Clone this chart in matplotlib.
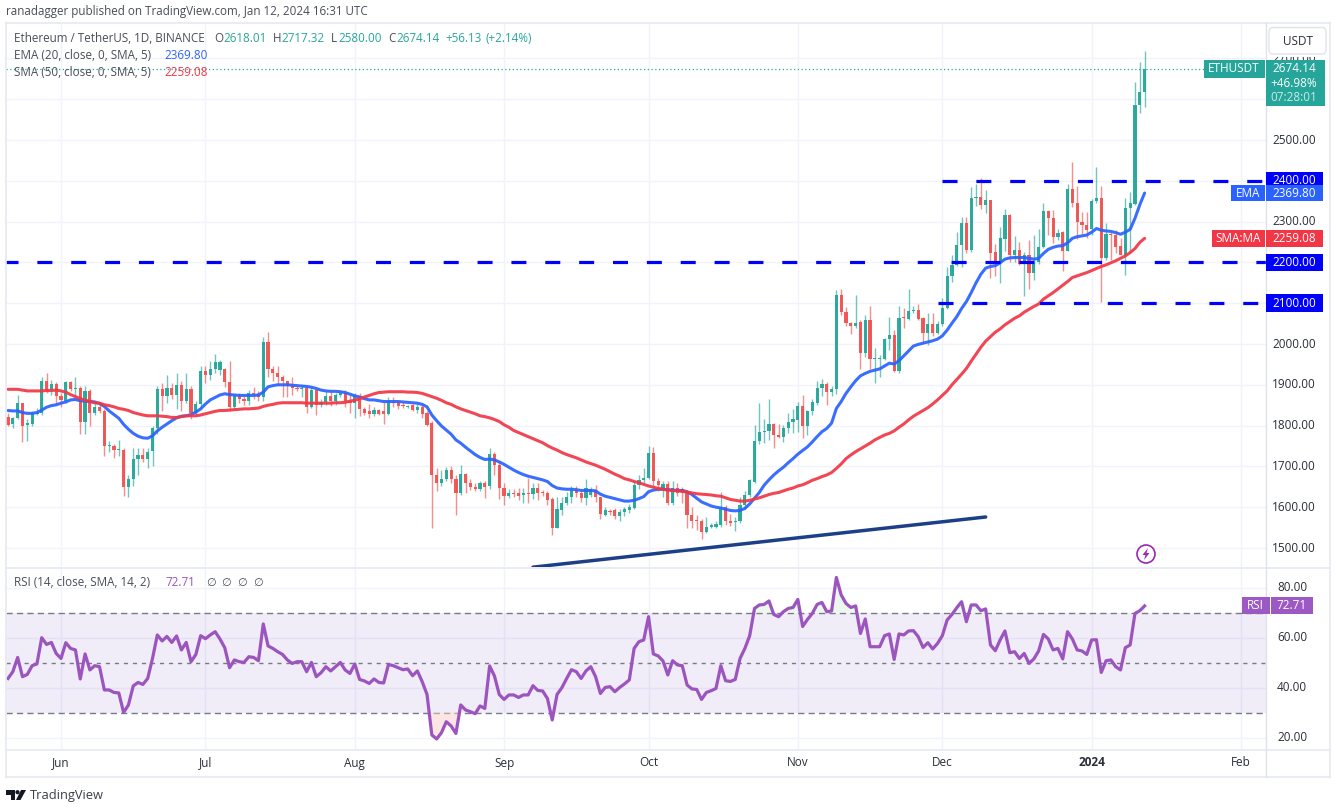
import numpy as np
import pandas as pd
import matplotlib
matplotlib.use("Agg")
import matplotlib.pyplot as plt
import matplotlib.dates as mdates
from matplotlib.patches import Rectangle, FancyBboxPatch, Circle, Polygon

FONT = ["Open Sans", "DejaVu Sans"]
plt.rcParams["font.family"] = FONT

start_date = "2023-05-21"

opens = [1820,1803,1818,1855,1801,1805,1829,1830,1910,1889,1903,
 1873,1861,1907,1890,1892,1810,1885,1832,1846,1835,1751,1751,1740,1740,1650,1669,1718,1728,1718,1738,1795,1890,1872,1892,1875,1900,1860,1890,1830,1853,
 1934,1923,1938,1936,1938,1908,1846,1872,1864,1860,1880,1878,1871,2006,1938,1930,1920,1910,1896,1892,1890,1892,1846,1888,1850,1858,1872,1860,1875,1880,1860,
 1856,1872,1840,1835,1828,1838,1835,1828,1858,1855,1851,1846,1850,1838,1846,1830,1806,1680,1660,1670,1692,1670,1635,1681,1660,1650,1645,1660,1651,1730,1703,
 1646,1628,1636,1636,1630,1634,1632,1648,1636,1636,1620,1550,1593,1610,1625,1643,1634,1622,1630,1642,1624,1581,1590,1594,1578,1588,1594,1598,1654,1666,
 1671,1733,1665,1648,1657,1610,1648,1645,1637,1580,1567,1567,1538,1552,1552,1556,1600,1565,1563,1566,1605,1630,1662,1763,1785,1786,1804,1778,1773,1793,1810,
 1814,1848,1800,1835,1855,1892,1903,1883,1889,2121,2079,2052,2045,2055,1978,2060,1964,1964,1964,2012,2022,1933,2065,2062,2081,2083,2063,2027,2048,2026,
 2049,2088,2166,2193,2242,2296,2230,2358,2360,2340,2352,2225,2200,2258,2316,2218,2230,2195,2218,2175,2200,2237,2325,2310,2263,2275,2229,2379,2345,2300,2292,
 2281,2351,2357,2210,2270,2268,2240,2218,2333,2343,2585,2618]
highs = [1830,1822,1875,1856,1815,1835,1842,1920,1928,1912,1907,
 1880,1910,1910,1920,1897,1897,1890,1858,1852,1840,1762,1755,1765,1745,1680,1745,1745,1745,1745,1800,1897,1905,1925,1905,1930,1910,1930,1897,1860,1945,
 1945,1958,1975,1960,1940,1958,1875,1880,1875,1888,1895,1885,2018,2029,1945,1945,1925,1910,1920,1900,1900,1895,1895,1885,1865,1885,1885,1880,1885,1888,1875,
 1880,1880,1845,1853,1845,1840,1858,1870,1870,1860,1858,1850,1852,1852,1855,1835,1812,1696,1690,1698,1700,1680,1703,1685,1670,1660,1665,1663,1745,1735,1710,
 1660,1645,1645,1647,1648,1672,1660,1660,1642,1640,1625,1625,1625,1638,1652,1653,1640,1670,1650,1655,1625,1600,1595,1598,1595,1600,1609,1665,1680,1695,
 1751,1747,1672,1665,1665,1665,1660,1650,1640,1600,1580,1570,1575,1562,1565,1638,1605,1583,1575,1625,1640,1670,1801,1855,1815,1865,1806,1804,1802,1830,1840,
 1859,1875,1838,1865,1910,1915,1908,1898,2132,2136,2090,2055,2120,2060,2070,2092,1990,1972,2015,2067,2035,2093,2089,2134,2092,2098,2065,2077,2077,2057,
 2112,2188,2218,2275,2312,2312,2385,2391,2406,2377,2354,2245,2286,2332,2318,2265,2251,2226,2255,2267,2281,2345,2328,2328,2283,2278,2392,2447,2387,2323,2323,
 2355,2433,2387,2296,2275,2279,2259,2359,2372,2643,2690,2717]
lows = [1800,1794,1815,1760,1762,1800,1825,1826,1880,1875,1853,
 1845,1855,1885,1870,1780,1780,1800,1825,1832,1725,1735,1720,1725,1628,1625,1653,1680,1710,1695,1700,1780,1835,1855,1865,1840,1835,1855,1815,1825,1840,
 1905,1912,1930,1925,1895,1835,1840,1855,1850,1850,1865,1860,1860,1920,1910,1900,1870,1870,1875,1885,1870,1830,1843,1825,1845,1850,1848,1850,1870,1845,1830,
 1818,1823,1825,1818,1824,1825,1804,1825,1845,1840,1842,1842,1835,1830,1818,1798,1550,1640,1652,1665,1660,1581,1630,1636,1642,1640,1640,1622,1644,1680,1620,
 1605,1622,1625,1617,1610,1610,1620,1617,1628,1605,1533,1550,1581,1605,1610,1625,1612,1605,1625,1612,1570,1578,1582,1572,1565,1578,1585,1596,1645,1660,
 1668,1650,1640,1625,1605,1605,1628,1610,1548,1550,1545,1523,1537,1548,1548,1552,1556,1553,1542,1562,1595,1625,1660,1755,1757,1765,1746,1770,1760,1781,1782,
 1785,1770,1776,1826,1850,1872,1850,1873,1878,2072,2045,2025,2040,1938,1968,1938,1905,1918,1960,1985,1932,1930,2038,2060,2075,2060,2002,1998,2020,2025,
 2045,2085,2153,2190,2189,2222,2225,2339,2331,2322,2161,2167,2149,2229,2202,2202,2194,2118,2136,2157,2195,2235,2267,2247,2255,2180,2227,2337,2257,2270,2259,
 2267,2345,2103,2206,2207,2222,2218,2169,2222,2340,2567,2580]
closes = [1802,1818,1855,1800,1806,1829,1830,1910,1887,1903,1873,
 1862,1907,1890,1892,1810,1885,1832,1846,1835,1751,1751,1740,1741,1650,1669,1718,1728,1718,1736,1795,1890,1872,1892,1875,1900,1860,1890,1830,1853,1934,
 1923,1938,1956,1956,1908,1846,1872,1864,1860,1880,1878,1871,2006,1938,1930,1920,1910,1896,1892,1890,1892,1846,1888,1850,1858,1872,1860,1875,1880,1860,1856,
 1872,1840,1832,1828,1838,1828,1828,1858,1855,1849,1849,1848,1838,1846,1828,1802,1680,1660,1670,1692,1670,1635,1681,1660,1650,1645,1660,1650,1730,1703,1646,
 1628,1635,1632,1628,1635,1633,1648,1634,1635,1618,1550,1595,1610,1625,1642,1634,1622,1648,1645,1624,1583,1594,1588,1578,1588,1595,1600,1654,1666,1671,
 1733,1665,1655,1657,1610,1648,1634,1634,1580,1567,1565,1538,1552,1556,1560,1600,1565,1562,1566,1605,1630,1666,1763,1785,1787,1804,1778,1773,1795,1810,1815,
 1848,1800,1835,1857,1892,1902,1883,1889,2121,2078,2052,2045,2052,1978,2060,1964,1964,1966,2012,2022,1934,2063,2064,2081,2084,2062,2027,2048,2027,2050,
 2089,2166,2193,2242,2296,2230,2358,2359,2340,2352,2224,2200,2260,2316,2218,2230,2195,2218,2175,2202,2238,2325,2310,2263,2273,2229,2379,2345,2300,2292,2280,
 2351,2357,2210,2270,2268,2238,2218,2333,2345,2585,2618,2674]

ema20 = [1837,1836,1836,1832,1830,1830,1832,1838,1845,1849,1851,1855,1858,1863,1864,1861,1860,1859,1858,1854,1847,1836,1827,1818,1803,1791,1781,1774,1770,1769,
 1775,1787,1796,1804,1812,1819,1823,1824,1827,1833,1841,1853,1863,1869,1875,1878,1876,1875,1874,1874,1874,1874,1875,1882,1895,1898,1900,1900,1900,1899,
 1898,1897,1896,1894,1891,1887,1885,1884,1884,1883,1881,1877,1873,1870,1866,1863,1863,1861,1859,1859,1859,1859,1858,1857,1856,1855,1852,1846,1826,1812,
 1799,1789,1779,1765,1757,1747,1738,1729,1722,1717,1718,1716,1711,1705,1698,1691,1685,1680,1676,1673,1670,1667,1663,1653,1647,1645,1644,1644,1643,1641,
 1641,1641,1640,1632,1627,1624,1621,1618,1615,1615,1617,1621,1626,1638,1642,1644,1644,1643,1642,1641,1641,1638,1631,1622,1613,1608,1603,1600,1598,1595,
 1592,1591,1592,1597,1608,1622,1636,1654,1667,1679,1689,1698,1709,1719,1730,1739,1748,1760,1773,1785,1793,1806,1842,1859,1879,1895,1910,1922,1928,1933,
 1936,1939,1946,1953,1951,1959,1971,1983,1995,1999,2002,2005,2008,2012,2020,2034,2051,2067,2087,2104,2126,2150,2171,2186,2190,2192,2199,2208,2211,2212,
 2212,2212,2210,2208,2210,2222,2232,2237,2240,2241,2248,2259,2263,2265,2267,2274,2283,2279,2277,2276,2273,2269,2274,2281,2308,2341,2370]
sma50 = [1889,1889,1889,1887,1885,1885,1885,1885,1886,1886,1887,1885,1882,1876,1871,1866,1862,1859,1856,1855,1851,1849,1846,1842,1840,1837,1832,1829,1826,1824,
 1824,1824,1823,1822,1820,1820,1822,1824,1824,1824,1826,1829,1832,1835,1837,1837,1838,1839,1840,1841,1841,1842,1843,1847,1850,1852,1855,1856,1856,1856,
 1856,1856,1855,1855,1855,1855,1855,1855,1856,1856,1857,1860,1862,1866,1870,1874,1878,1881,1882,1883,1883,1883,1883,1882,1882,1881,1879,1875,1871,1867,
 1862,1856,1852,1846,1841,1837,1833,1829,1824,1822,1819,1815,1810,1802,1796,1788,1783,1778,1773,1768,1763,1758,1751,1745,1740,1734,1729,1725,1721,1716,
 1711,1707,1703,1698,1693,1687,1681,1676,1670,1667,1663,1660,1656,1652,1649,1646,1644,1642,1641,1640,1639,1637,1635,1633,1632,1631,1630,1628,1627,1623,
 1619,1617,1615,1615,1617,1620,1623,1627,1631,1634,1636,1640,1644,1647,1652,1655,1660,1666,1670,1675,1679,1685,1695,1706,1719,1728,1736,1743,1750,1757,
 1765,1771,1777,1781,1787,1796,1804,1814,1823,1830,1837,1844,1853,1863,1874,1885,1900,1913,1926,1940,1958,1975,1992,2007,2018,2029,2037,2047,2055,2063,
 2069,2078,2085,2092,2098,2110,2118,2126,2135,2144,2153,2163,2167,2171,2175,2180,2185,2190,2194,2199,2204,2210,2216,2224,2234,2249,2259]
rsi14 = [43.7,46.4,52.1,44.4,45.3,48.8,49.5,60,57.3,58.1,53.7,51.7,58,55.7,55.1,43.5,53.5,47.1,48.8,48.4,39.1,39.1,38.1,37.9,30.1,33.1,40.7,42.1,41.3,43.7,
 51.7,61.1,58.7,60.5,58.1,60.7,55.1,58.1,50.4,53.3,60.8,59.6,61.1,62.4,59.5,56,48,51.1,50.4,50.1,52.4,52.1,50.8,65.5,56.7,55.7,54.4,53.3,51.1,49.7,
 50.4,50.4,46.4,50.1,44.4,46,48.4,46.7,48.4,50.1,47.1,45.7,49.5,43.3,42.7,41.7,43.5,42.1,41.9,49.3,48.8,48,47.2,47.5,44.8,46.7,42.4,37.3,21.1,19.5,
 22,26.4,24.7,21.7,33.1,31.1,30.4,29.6,32.7,31.7,48.7,44.7,37.3,35.3,37.1,37.1,36.1,37.1,37.1,40.8,38.9,38.7,35.7,27.1,37.3,40,43.7,47.2,46.4,43.7,
 46.7,48.4,44.4,
 37.7,40.1,40.4,38.4,40.1,41.5,43.1,55.7,58.4,59.1,68.4,53.5,52.7,50.7,45.1,50.8,49.1,48.8,41.1,39.5,39.3,35.3,38.1,38.8,39.7,48.8,42.8,42.5,43.3,51.7,
 55.7,60.8,71.7,73.1,73.3,74.7,69.3,68.4,70.4,71.7,72.1,75.3,64.5,67.3,69.7,73.3,74.1,70.4,70.7,84.1,77.1,73.7,72.1,72.7,61.7,67.5,56.4,56.4,56.4,60.8,
 61.5,51.3,61.5,61.1,62.7,62.8,60.4,56.1,58,55.5,57.7,60.8,67.1,69.3,72,74.4,66.4,73.1,73.1,70.8,71.5,57.1,54.8,59.1,62.7,54,54.4,51.7,53.7,49.7,
 51.5,54.7,61.3,59.5,55.1,55.7,51.5,62.4,59.5,55.1,54.7,53.3,59.1,59.2,46.1,50.8,51.1,48.4,47.1,56,57.1,69.7,70.8,72.71]

level_prices = [2400, 2200, 2100]
level_starts = ["2023-12-01", "2023-05-20", "2023-11-30"]
trend_dates = ["2023-09-07", "2023-12-10"]
trend_prices = [1453, 1576]
price_ticks = [1500,1600,1700,1800,1900,2000,2100,2200,2300,2400,2500,2600,2700]
price_labels = [1500,1600,1700,1800,1900,2000,2300,2500,2700]
rsi_ticks = [20,40,60,80]
rsi_levels = [70,50,30]
month_ticks = ["2023-06-01","2023-07-01","2023-08-01","2023-09-01","2023-10-01","2023-11-01","2023-12-01","2024-01-01","2024-02-01"]
month_labels = ["Jun","Jul","Aug","Sep","Oct","Nov","Dec","2024","Feb"]
last_close, last_ema, last_sma, last_rsi = 2674.14, 2369.80, 2259.08, 72.71

GREEN, RED = "#26a69a", "#ef5350"
BLUE, SMA = "#2962ff", "#f23645"
GRID = "#f0f3fa"
TXT = "#4a4e5a"
W, H = 1336, 809

dates = mdates.date2num(pd.date_range(start_date, periods=len(closes)))
o, h, l, c = map(np.array, (opens, highs, lows, closes))
up = c >= o
cols = np.where(up, GREEN, RED)

fig = plt.figure(figsize=(W / 100, H / 100), dpi=100, facecolor="white")

def pane(x0, y0, x1, y1):
    return fig.add_axes([x0 / W, 1 - y1 / H, (x1 - x0) / W, (y1 - y0) / H])

ax = pane(6, 24, 1266, 567)
ax2 = pane(6, 568, 1266, 749)
d0 = mdates.date2num(pd.Timestamp(start_date))
xlim = (d0 + (6 - 61) / 4.816 + 11, d0 + (1266 - 61) / 4.816 + 11)
ticks_x = mdates.date2num(pd.to_datetime(month_ticks))

for a in (ax, ax2):
    a.set_xlim(*xlim)
    a.set_xticks(ticks_x)
    a.tick_params(left=False, right=False, bottom=False, labelleft=False, labelbottom=False)
    a.grid(True, color=GRID, lw=1.0)
    a.set_axisbelow(True)
    for s in a.spines.values():
        s.set_visible(False)

# price pane
ax.set_ylim(1500 + (548 - 567) / 0.408, 1500 + (548 - 24) / 0.408)
ax.set_yticks(price_ticks)
ax.axhline(last_close, color=GREEN, lw=0.9, ls=(0, (1, 2)), zorder=1)
ax.vlines(dates, l, h, colors=cols, lw=1.0, alpha=0.65, zorder=2)
ax.bar(dates, np.maximum(np.abs(c - o), 2.5), bottom=np.minimum(o, c), width=0.66, color=cols, alpha=0.95, lw=0, zorder=3)
ax.plot(dates, ema20, color=BLUE, lw=2.2, alpha=0.92, zorder=4, solid_capstyle="round")
ax.plot(dates, sma50, color=SMA, lw=2.2, alpha=0.92, zorder=4, solid_capstyle="round")
for p, s in zip(level_prices, level_starts):
    ax.plot([mdates.date2num(pd.Timestamp(s)), xlim[1]], [p, p], color="#0000ff", lw=2.3,
            dashes=(4.7, 5.9), dash_capstyle="butt", zorder=5)
ax.plot(mdates.date2num(pd.to_datetime(trend_dates)), trend_prices, color="#1c3f87", lw=2.5, zorder=5, solid_capstyle="round")

# RSI pane
ax2.set_ylim(70 - (749 - 612.7) / 2.5, 70 + (612.7 - 568) / 2.5)
ax2.set_yticks(rsi_ticks)
ax2.axhspan(rsi_levels[2], rsi_levels[0], color="#7e57c2", alpha=0.11, lw=0, zorder=1)
for v in rsi_levels:
    ax2.axhline(v, color="#787b86", lw=1.0, ls=(0, (4.5, 3)) if v != 50 else (0, (3, 3.5)), zorder=2)
r = np.array(rsi14)
ax2.fill_between(dates, r, 30, where=r < 30, interpolate=True, color="#f9cfcb", alpha=0.5, lw=0, zorder=2)
ax2.fill_between(dates, r, 70, where=r > 70, interpolate=True, color="#d5efdb", alpha=0.45, lw=0, zorder=2)
ax2.plot(dates, r, color="#9c54bf", lw=2.3, zorder=3, solid_joinstyle="round")

# overlay in pixel coordinates for frame, labels and legends
ov = fig.add_axes([0, 0, 1, 1], zorder=10)
ov.set_xlim(0, W)
ov.set_ylim(H, 0)
ov.axis("off")
ov.patch.set_alpha(0)

def T(x, y, s, color=TXT, size=8.5, ha="left", **kw):
    return ov.text(x, y, s, color=color, fontsize=size, ha=ha, va="center", family=FONT, **kw)

def box(x0, x1, yc, color, hgt=17.5, z=3):
    ov.add_patch(Rectangle((x0, yc - hgt / 2), x1 - x0, hgt, fc=color, ec="none", zorder=z))

def py(ax_, val):
    return H - ax_.transData.transform((xlim[0], val))[1]

def px(date):
    return ax.transData.transform((mdates.date2num(pd.Timestamp(date)), 0))[0]

FR = "#e6e9f2"
for seg in ([(6, 23), (1330, 23)], [(6, 23), (6, 777)], [(1330, 23), (1330, 777)], [(6, 777), (1330, 777)],
            [(6, 567.5), (1330, 567.5)], [(6, 749.5), (1330, 749.5)]):
    ov.plot(*zip(*seg), color=FR, lw=1.2, zorder=1)
ov.plot([1265.7, 1265.7], [23, 777], color="#dfe2ea", lw=1.0, zorder=1)

for p in price_labels:
    T(1294, py(ax, p), f"{p:.2f}", color="#2a2e39", ha="center", zorder=2)
ov.add_patch(Rectangle((1267, 50), 60, 6.8, fc="white", ec="none", zorder=2.5))
for p in level_prices:
    yc = py(ax, p)
    box(1266, 1323, yc, "#0000ff")
    T(1294, yc, f"{p:.2f}", color="white", ha="center", zorder=4)

# last price box
yc = py(ax, last_close)
box(1266, 1325, 83, GREEN, hgt=46)
T(1294, yc, f"{last_close:.2f}", color="white", ha="center", zorder=4)
T(1294, 83, "+46.98%", color="white", ha="center", zorder=4)
T(1294, 97, "07:28:01", color="#c5ebe6", ha="center", zorder=4)
box(1204, 1264.5, yc, GREEN, z=3)
T(1234, yc, "ETHUSDT", color="white", ha="center", zorder=4)

yc = py(ax, last_ema)
box(1266, 1323, yc, BLUE, hgt=16.5)
box(1231, 1264.5, yc, BLUE, hgt=16.5)
T(1294, yc, f"{last_ema:.2f}", color="white", ha="center", zorder=4)
T(1248, yc, "EMA", color="white", ha="center", zorder=4)
yc = py(ax, last_sma)
box(1266, 1323, yc, SMA)
box(1212, 1264.5, yc, SMA)
T(1294, yc, f"{last_sma:.2f}", color="white", ha="center", zorder=4)
T(1238.5, yc, "SMA:MA", color="white", ha="center", zorder=4)

# USDT button
ov.add_patch(FancyBboxPatch((1269, 27.5), 57, 26.5, boxstyle="round,pad=0,rounding_size=4", fc="white", ec="#e0e3eb", lw=1, zorder=3))
T(1298, 41, "USDT", color="#2a2e39", ha="center", zorder=4)

# RSI scale
for v in rsi_ticks:
    T(1292, py(ax2, v), f"{v:.2f}", color="#2a2e39", ha="center", zorder=2)
yc = py(ax2, last_rsi)
box(1242, 1269.5, yc, "#9c59c4", hgt=17)
box(1270.5, 1313, yc, "#9c59c4", hgt=17)
T(1255.5, yc, "RSI", color="white", ha="center", zorder=4)
T(1292, yc, f"{last_rsi:.2f}", color="white", ha="center", zorder=4)

# date labels
for d, lab in zip(month_ticks, month_labels):
    bold = lab == "2024"
    T(px(d), 763, lab, color="#2a2e39", ha="center", fontweight="bold" if bold else "normal")

# header and legends
T(6, 11, "ranadagger published on TradingView.com, Jan 12, 2024 16:31 UTC", color="#4a4e5a", size=8.4)
T(14, 38.5, "Ethereum / TetherUS, 1D, BINANCE", size=8.4)
for x, s, col in [(214, "O", TXT), (223, "2618.01", GREEN), (273, "H", TXT), (281, "2717.32", GREEN),
                  (331, "L", TXT), (338, "2580.00", GREEN), (388, "C", TXT), (396, "2674.14", GREEN),
                  (445, "+56.13", GREEN), (485, "(+2.14%)", GREEN)]:
    T(x, 38.5, s, color=col, size=8.4)
T(14, 55.5, "EMA (20, close, 0, SMA, 5)", size=8.4)
T(164, 55.5, "2369.80", color=BLUE, size=8.4)
T(14, 72.5, "SMA (50, close, 0, SMA, 5)", size=8.4)
T(164, 72.5, "2259.08", color=SMA, size=8.4)
T(14, 583, "RSI (14, close, SMA, 14, 2)", size=8.4)
T(165, 583, "72.71", color="#9c54bf", size=8.4)
for x in (206, 221, 237, 253):
    T(x, 583, "\u2205", size=8.0)

# lightning icon
ov.add_patch(Circle((1146, 554), 9, fc="white", ec="#9c27b0", lw=1.2, zorder=4))
ov.add_patch(Polygon([(1148, 548), (1142.5, 555), (1145.5, 555), (1144, 560), (1149.5, 553), (1146.5, 553)], fc="#9c27b0", ec="none", zorder=5))

# logo
ov.add_patch(Polygon([(6, 790), (15, 790), (15, 800), (10.5, 800), (10.5, 794.5), (6, 794.5)], fc="#131722", ec="none"))
ov.add_patch(Circle((17.5, 792.2), 2.1, fc="#131722", ec="none"))
ov.add_patch(Polygon([(20.5, 800), (16, 800), (21, 790), (26, 790)], fc="#131722", ec="none"))
T(30, 795, "TradingView", color="#3a3e4a", size=9.3)

assert len({len(x) for x in (opens, highs, lows, closes, ema20, sma50, rsi14)}) == 1, [len(x) for x in (opens, highs, lows, closes, ema20, sma50, rsi14)]
fig.savefig("out.png", dpi=100, facecolor="white")
